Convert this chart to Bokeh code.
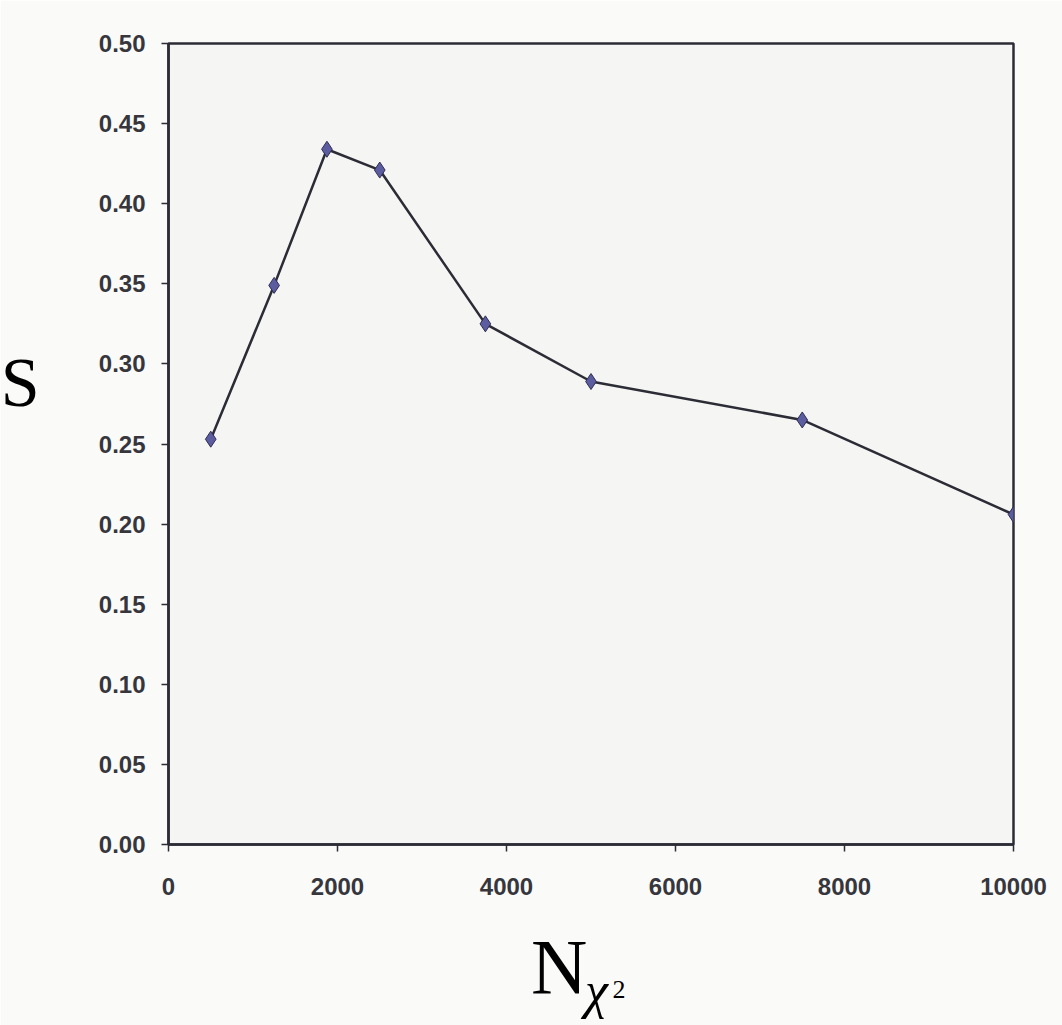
from bokeh.plotting import figure
from bokeh.models import Range1d, FixedTicker, NumeralTickFormatter, Label
from bokeh.embed import file_html
from bokeh.resources import INLINE

# Data
n_chi2 = [500, 1250, 1875, 2500, 3750, 5000, 7500, 10000]
s_vals = [0.253, 0.349, 0.434, 0.421, 0.325, 0.289, 0.265, 0.206]

x_ticks = [0, 2000, 4000, 6000, 8000, 10000]
y_ticks = [0.0, 0.05, 0.10, 0.15, 0.20, 0.25, 0.30, 0.35, 0.40, 0.45, 0.50]

FRAME_BG = "#f5f5f3"
PAGE_BG = "#fafaf9"
INK = "#2c2c36"

p = figure(width=1062, height=1025, output_backend="svg", toolbar_location=None,
           x_range=Range1d(0, 10000), y_range=Range1d(0, 0.5),
           min_border_left=168, min_border_right=49,
           min_border_top=43, min_border_bottom=181,
           background_fill_color=FRAME_BG, border_fill_color=PAGE_BG)

p.grid.visible = False
p.outline_line_color = INK
p.outline_line_width = 2.5
p.outline_line_alpha = 1.0

for ax in (p.xaxis[0], p.yaxis[0]):
    ax.axis_line_color = INK
    ax.axis_line_width = 2.5
    ax.major_tick_line_color = INK
    ax.major_tick_line_width = 1.5
    ax.major_tick_out = 7
    ax.major_tick_in = 0
    ax.minor_tick_line_color = None
    ax.major_label_text_font = "Liberation Sans"
    ax.major_label_text_font_size = "24px"
    ax.major_label_text_font_style = "bold"
    ax.major_label_text_color = "#36363c"

p.xaxis[0].ticker = FixedTicker(ticks=x_ticks)
p.yaxis[0].ticker = FixedTicker(ticks=y_ticks)
p.yaxis[0].formatter = NumeralTickFormatter(format="0.00")
p.xaxis[0].formatter = NumeralTickFormatter(format="0")
p.yaxis[0].major_label_standoff = 16
p.xaxis[0].major_label_standoff = 26

p.line(n_chi2, s_vals, line_color=INK, line_width=2.5)
p.scatter(n_chi2, s_vals, marker="diamond", size=16,
          fill_color="#5c5ca0", line_color="#2e2e50", line_width=1)

serif = "Liberation Serif"
lab_S = Label(x=-1985, y=0.2881, text="S", text_font=serif, text_font_size="70px",
              text_baseline="middle", text_color="#000000")
lab_N = Label(x=4290, y=-0.0762, text="N", text_font=serif, text_font_size="78px",
              text_baseline="middle", text_color="#000000")
lab_chi = Label(x=4930, y=-0.0914, text="χ", text_font=serif, text_font_size="52px",
                text_font_style="italic",
                text_baseline="middle", text_color="#000000")
lab_2 = Label(x=5254, y=-0.0905, text="2", text_font=serif, text_font_size="26px",
              text_baseline="middle", text_color="#000000")
p.add_layout(lab_S, "left")
p.add_layout(lab_N, "below")
p.add_layout(lab_chi, "right")
p.add_layout(lab_2, "right")

open("out.html", "w").write(file_html(p, INLINE))
